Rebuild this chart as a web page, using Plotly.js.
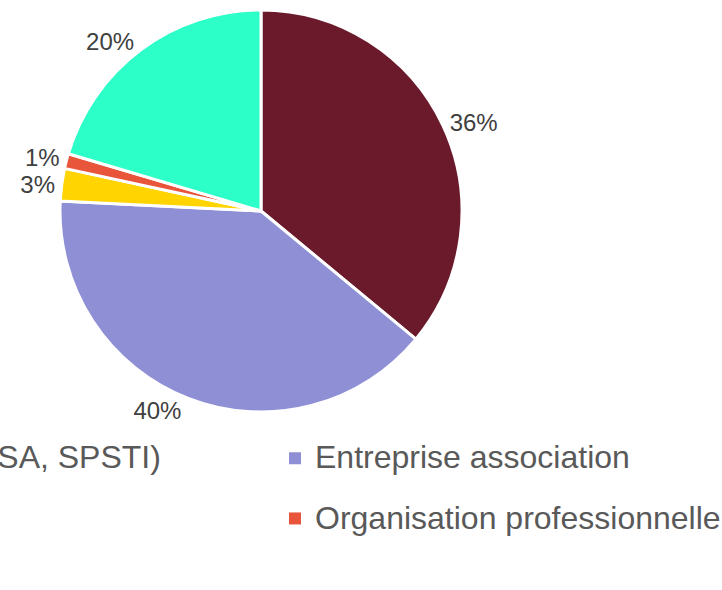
<!DOCTYPE html>
<html>
<head>
<meta charset="utf-8">
<script src="https://cdn.plot.ly/plotly-3.0.1.min.js"></script>
<style>
  html, body { margin: 0; padding: 0; overflow: hidden; background: #fff; }
  /* the chart is wider than the window: the left part of the legend is cut off, as in the picture */
  #chart { position: absolute; left: -500px; top: 0; width: 1600px; height: 590px; }
  /* no leader lines on the outside labels, plain squares in the legend */
  #chart .textline { display: none; }
  #chart .legendpie { stroke-width: 0 !important; }
</style>
</head>
<body>
<div id="chart"></div>
<script>
// categories (legend order = slice order, clockwise from the top)
var labels = [
    "Service de santé au travail (MSA, SPSTI)",
    "Entreprise association",
    "Consultant",
    "Organisation professionnelle",
    "Autre"
];
// shares in %
var shares = [36.0, 39.8, 2.6, 1.2, 20.4];
var colors = ['#6B1A2C', '#8F8FD6', '#FFD400', '#E8553A', '#2CFFC8'];

// legend text is drawn smaller than the legend font so the rows are spaced like the picture
var legendText = labels.map(function(l){
    return '<span style="font-size:32px;baseline-shift:7px">' + l + '</span>';
});

var trace = {
    type: 'pie',
    labels: legendText,
    values: shares,
    sort: false,
    direction: 'clockwise',
    rotation: 0,
    marker: {
        colors: colors,
        line: {color: '#ffffff', width: 3}
    },
    textposition: 'outside',
    texttemplate: '%{percent:.0%}',
    textfont: {family: 'Liberation Sans, Arial, sans-serif', size: 24, color: '#404040'},
    hoverinfo: 'skip',
    domain: {x: [0.35, 0.60125], y: [0.3017, 0.9831]}
};

var layout = {
    width: 1600,
    height: 590,
    margin: {l: 0, r: 0, t: 0, b: 0, autoexpand: false},
    paper_bgcolor: '#ffffff',
    font: {family: 'Liberation Sans, Arial, sans-serif', color: '#595959'},
    showlegend: true,
    legend: {
        orientation: 'h',
        entrywidth: 696,
        entrywidthmode: 'pixels',
        x: 0.02125,
        xanchor: 'left',
        y: 0.2828,
        yanchor: 'top',
        font: {size: 44, color: '#595959'},
        bgcolor: 'rgba(0,0,0,0)'
    }
};

Plotly.newPlot('chart', [trace], layout, {displayModeBar: false, staticPlot: true});
</script>
</body>
</html>
